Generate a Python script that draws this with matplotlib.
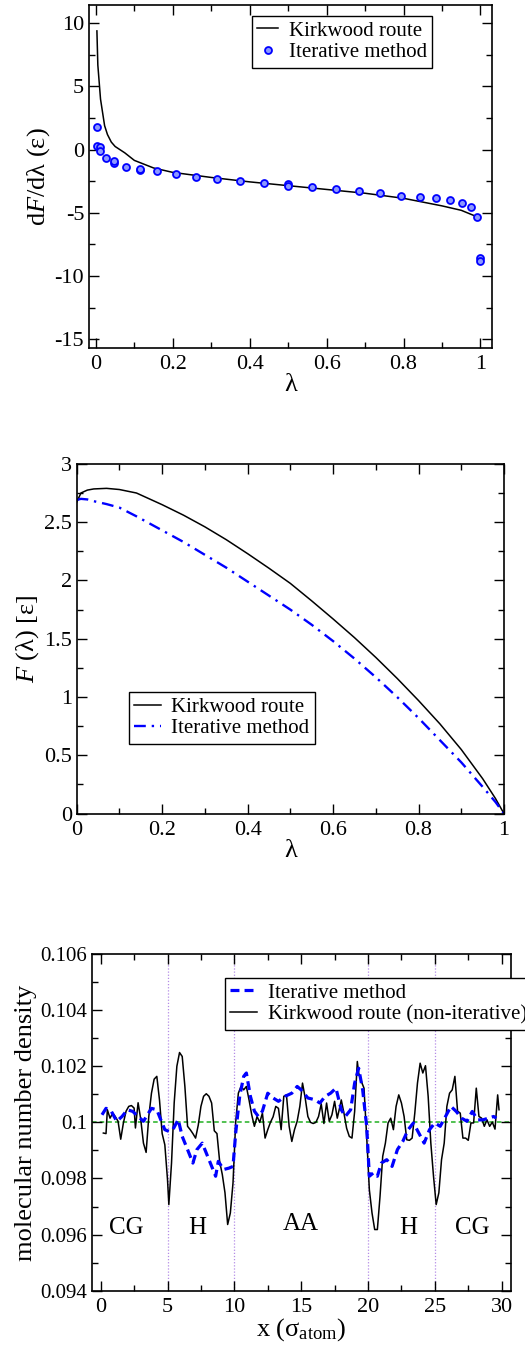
import numpy as np
import matplotlib
matplotlib.use('Agg')
import matplotlib.pyplot as plt

plt.rcParams['font.family'] = ['Liberation Serif', 'DejaVu Serif']
plt.rcParams['mathtext.fontset'] = 'custom'
plt.rcParams['mathtext.rm'] = 'Liberation Serif'
plt.rcParams['mathtext.it'] = 'Liberation Serif:italic'

# panel 1: dF/dlambda
kw_lam = [0.0026, 0.005, 0.012, 0.0226, 0.03, 0.04, 0.05, 0.075, 0.1, 0.15, 0.2, 0.3, 0.4,
          0.5, 0.6, 0.7, 0.8, 0.9, 0.95, 0.99]
kw_dF = [9.4, 6.7, 4.0, 1.9, 1.2, 0.6, 0.25, -0.25, -0.85, -1.45, -1.8, -2.2, -2.55,
         -2.85, -3.15, -3.45, -3.85, -4.45, -4.8, -5.3]
it_lam = [0.002, 0.002, 0.01, 0.01, 0.026, 0.048, 0.048, 0.078, 0.115, 0.115, 0.158, 0.207,
          0.26, 0.316, 0.375, 0.437, 0.5, 0.5, 0.563, 0.624, 0.683, 0.74, 0.794, 0.842,
          0.885, 0.922, 0.952, 0.976, 0.991, 1.0, 1.0]
it_dF = [1.83, 0.29, 0.19, -0.13, -0.66, -1.03, -0.9, -1.35, -1.62, -1.5, -1.72, -1.96,
         -2.2, -2.33, -2.52, -2.63, -2.72, -2.86, -2.94, -3.08, -3.29, -3.42, -3.63, -3.71,
         -3.85, -4.0, -4.24, -4.5, -5.33, -8.6, -8.8]

# panel 2: F(lambda)
F_lam = [0.0, 0.01, 0.025, 0.04, 0.07, 0.1, 0.14, 0.2, 0.25, 0.3, 0.35, 0.4, 0.45, 0.5,
         0.55, 0.6, 0.65, 0.7, 0.75, 0.8, 0.85, 0.9, 0.95, 0.98, 1.0]
F_kw = [2.67, 2.75, 2.775, 2.785, 2.79, 2.78, 2.75, 2.65, 2.56, 2.46, 2.35, 2.23, 2.105,
        1.975, 1.825, 1.67, 1.51, 1.34, 1.16, 0.97, 0.77, 0.55, 0.30, 0.13, 0.0]
F_it = [2.69, 2.70, 2.695, 2.68, 2.655, 2.625, 2.55, 2.43, 2.33, 2.22, 2.11, 1.99, 1.87,
        1.75, 1.62, 1.48, 1.33, 1.17, 1.0, 0.82, 0.63, 0.44, 0.23, 0.10, 0.0]

# panel 3: density profiles
x_kw = [0.2, 0.4, 0.5, 0.7, 0.9, 1.1, 1.3, 1.5, 1.7, 1.9, 2.1, 2.3, 2.5, 2.6, 2.8, 3.0, 3.2,
        3.4, 3.6, 3.8, 4.0, 4.2, 4.4, 4.6, 4.8, 5.0, 5.1, 5.3, 5.5, 5.7, 5.9, 6.1, 6.3, 6.5,
        6.7, 6.9, 7.1, 7.3, 7.5, 7.7, 7.9, 8.1, 8.3, 8.5, 8.7, 8.9, 9.1, 9.3, 9.5, 9.7, 9.9,
        10.1, 10.3, 10.5, 10.7, 10.9, 11.1, 11.3, 11.5, 11.7, 11.9, 12.1, 12.3, 12.5, 12.7,
        12.9, 13.1, 13.3, 13.5, 13.7, 13.9, 14.1, 14.3, 14.5, 14.7, 14.9, 15.1, 15.3, 15.5,
        15.7, 15.9, 16.1, 16.3, 16.5, 16.7, 16.9, 17.1, 17.3, 17.5, 17.7, 17.9, 18.0, 18.2,
        18.4, 18.6, 18.8, 19.0, 19.2, 19.3, 19.5, 19.7, 19.9, 20.1, 20.3, 20.5, 20.7, 20.9,
        21.1, 21.3, 21.5, 21.7, 21.9, 22.1, 22.3, 22.5, 22.7, 22.9, 23.1, 23.3, 23.5, 23.7,
        23.9, 24.1, 24.3, 24.5, 24.7, 24.9, 25.1, 25.3, 25.5, 25.7, 25.9, 26.1, 26.3, 26.5,
        26.7, 26.9, 27.1, 27.3, 27.5, 27.7, 27.9, 28.1, 28.3, 28.5, 28.7, 28.9, 29.1, 29.3,
        29.5, 29.7, 29.8]
rho_kw = [0.09962, 0.0996, 0.10045, 0.10015, 0.10033, 0.1002, 0.10004, 0.0994, 0.09998,
          0.1004, 0.10057, 0.1006, 0.10051, 0.0998, 0.1007, 0.1001, 0.09926, 0.09893,
          0.10021, 0.10104, 0.10154, 0.10164, 0.1008, 0.0996, 0.0992, 0.09796, 0.09707,
          0.09855, 0.1007, 0.1020, 0.10249, 0.10235, 0.10128, 0.09986, 0.09974, 0.0996,
          0.09944, 0.0999, 0.10057, 0.10093, 0.10102, 0.10093, 0.10069, 0.0997, 0.0996,
          0.09861, 0.09814, 0.09749, 0.09636, 0.09677, 0.09784, 0.1000, 0.10104, 0.10128,
          0.10116, 0.10128, 0.1008, 0.10027, 0.09986, 0.10021, 0.1, 0.10033, 0.09944,
          0.09974, 0.1, 0.1002, 0.10057, 0.1005, 0.09974, 0.10093, 0.10098, 0.09986,
          0.09932, 0.09974, 0.10004, 0.10057, 0.1014, 0.10087, 0.10021, 0.1, 0.09996,
          0.1, 0.10021, 0.10066, 0.09996, 0.10069, 0.10004, 0.10027, 0.10075, 0.10015,
          0.10057, 0.1008, 0.10033, 0.09979, 0.0995, 0.09944, 0.10039, 0.10217, 0.10176,
          0.10146, 0.10122, 0.0995, 0.0976, 0.09677, 0.09618, 0.09618, 0.09737, 0.09879,
          0.09926, 0.09998, 0.10015, 0.09974, 0.10057, 0.10098, 0.10069, 0.10021, 0.09938,
          0.09936, 0.09944, 0.10033, 0.1014, 0.10211, 0.10176, 0.10202, 0.10093, 0.09926,
          0.09808, 0.09707, 0.09749, 0.09867, 0.09926, 0.10057, 0.10104, 0.10116, 0.10164,
          0.1004, 0.10033, 0.09944, 0.09944, 0.09936, 0.09998, 0.09998, 0.10122, 0.10021,
          0.10015, 0.09986, 0.10009, 0.09986, 0.10001, 0.09976, 0.10098, 0.10045]

x_it = [0.1, 0.4, 0.8, 1.2, 1.6, 2.0, 2.4, 2.8, 3.2, 3.5, 3.8, 4.2, 4.5, 4.8, 5.1, 5.4, 5.8,
        6.1, 6.5, 6.9, 7.2, 7.6, 8.0, 8.4, 8.6, 8.8, 9.2, 9.6, 9.9, 10.1, 10.4, 10.7, 10.9,
        11.2, 11.5, 11.8, 12.1, 12.5, 12.9, 13.3, 13.8, 14.3, 14.7, 15.0, 15.5, 16.0, 16.4,
        16.8, 17.2, 17.6, 18.0, 18.3, 18.7, 19.0, 19.3, 19.6, 19.9, 20.1, 20.4, 20.7, 21.0,
        21.4, 21.8, 22.2, 22.6, 23.0, 23.4, 23.8, 24.2, 24.6, 25.0, 25.4, 25.8, 26.2, 26.6,
        27.0, 27.4, 27.8, 28.2, 28.6, 29.0, 29.4, 29.6]
rho_it = [0.10027, 0.1005, 0.10039, 0.10004, 0.10021, 0.10045, 0.10039, 0.10021, 0.10004,
          0.10027, 0.1005, 0.10045, 0.10009, 0.09974, 0.09968, 0.09974, 0.1001, 0.0995,
          0.09903, 0.09855, 0.09903, 0.09926, 0.09879, 0.09832, 0.09808, 0.09861, 0.09832,
          0.09837, 0.09843, 0.09962, 0.10093, 0.10164, 0.10176, 0.10093, 0.1004, 0.10021,
          0.1004, 0.10104, 0.10087, 0.10075, 0.10093, 0.10104, 0.10128, 0.10116, 0.10087,
          0.10081, 0.10069, 0.10093, 0.10104, 0.10122, 0.10045, 0.10021, 0.10045, 0.1014,
          0.10193, 0.10116, 0.09986, 0.09808, 0.0982, 0.09808, 0.09855, 0.09867, 0.09843,
          0.09903, 0.09932, 0.09974, 0.09998, 0.09962, 0.09926, 0.09974, 0.09998, 0.09986,
          0.10021, 0.10057, 0.10039, 0.10015, 0.10004, 0.10039, 0.10009, 0.10009, 0.10015,
          0.10021, 0.10015]

regions = ['CG', 'H', 'AA', 'H', 'CG']
region_x = [1.9, 7.26, 15.0, 23.0, 27.8]
region_y = [0.09624, 0.09624, 0.09636, 0.09624, 0.09624]
boundaries = [5, 10, 20, 25]


def style_axes(ax, xmaj, xmin, ymaj, ymin, xsize=16, ysize=16):
    ax.xaxis.set_major_locator(plt.MultipleLocator(xmaj))
    ax.xaxis.set_minor_locator(plt.MultipleLocator(xmin))
    ax.yaxis.set_major_locator(plt.MultipleLocator(ymaj))
    ax.yaxis.set_minor_locator(plt.MultipleLocator(ymin))
    ax.tick_params(which='both', direction='in', top=True, right=True, width=1)
    ax.tick_params(which='major', length=7)
    ax.tick_params(which='minor', length=4)
    ax.tick_params(axis='x', labelsize=xsize, pad=5)
    ax.tick_params(axis='y', labelsize=ysize)
    ax.xaxis.set_major_formatter(plt.FuncFormatter(lambda v, p: '%g' % v))
    ax.yaxis.set_major_formatter(plt.FuncFormatter(lambda v, p: '%g' % v))
    for s in ax.spines.values():
        s.set_linewidth(1.2)


leg_kw = dict(fontsize=15, frameon=True, fancybox=False, framealpha=1, edgecolor='black',
              borderpad=0.25, labelspacing=0.1, handletextpad=0.5, borderaxespad=0)

fig = plt.figure(figsize=(5.25, 13.52), dpi=100)

# ---- panel 1
ax1 = fig.add_axes([0.1695, 0.7426, 0.7676, 0.2537])
ax1.plot(kw_lam, kw_dF, color='black', lw=1.1, label='Kirkwood route')
ax1.plot(it_lam, it_dF, 'o', ms=5, mfc='#8c98ff', mec='blue', mew=1.3, label='Iterative method')
ax1.set_xlim(-0.018, 1.03)
ax1.set_ylim(-15.7, 11.45)
style_axes(ax1, 0.2, 0.1, 5, 2.5)
ax1.set_xlabel('λ', fontsize=19, labelpad=0)
ax1.set_ylabel('d$\\it{F}$/dλ (ε)', fontsize=19, labelpad=2)
l1 = ax1.legend(loc='upper right', bbox_to_anchor=(0.851, 0.968), handlelength=1.0, **leg_kw)
l1.get_frame().set_linewidth(1)

# ---- panel 2
ax2 = fig.add_axes([0.146, 0.3982, 0.814, 0.2587])
ax2.plot(F_lam, F_kw, color='black', lw=1.1, label='Kirkwood route')
ax2.plot(F_lam, F_it, color='blue', lw=1.7, linestyle=(0, (5, 2.5, 1, 2.5)), label='Iterative method')
ax2.set_xlim(0, 1)
ax2.set_ylim(0, 3)
style_axes(ax2, 0.2, 0.1, 0.5, 0.25)
ax2.set_xlabel('λ', fontsize=19, labelpad=0)
ax2.set_ylabel('$\\it{F}$ (λ) [ε]', fontsize=19, labelpad=2)
l2 = ax2.legend(loc='lower left', bbox_to_anchor=(0.122, 0.2), handlelength=1.3, **leg_kw)
l2.get_frame().set_linewidth(1)

# ---- panel 3
ax3 = fig.add_axes([0.1747, 0.04534, 0.7987, 0.249])
for b in boundaries:
    ax3.axvline(b, color='#b48ce6', lw=0.9, linestyle=(0, (1, 1.5)), zorder=1)
ax3.axhline(0.1, color='#22b022', lw=1.1, linestyle=(0, (3, 2)), zorder=1)
ax3.plot(x_it, rho_it, color='blue', lw=2.3, linestyle=(0, (2.8, 1.6)), label='Iterative method', zorder=3)
ax3.plot(x_kw, rho_kw, color='black', lw=1.1, label='Kirkwood route (non-iterative)', zorder=2)
for t, xx, yy in zip(regions, region_x, region_y):
    ax3.text(xx, yy, t, fontsize=18, ha='center', va='center')
ax3.set_xlim(-0.67, 30.7)
ax3.set_ylim(0.094, 0.106)
style_axes(ax3, 5, 2.5, 0.002, 0.001, xsize=16, ysize=15)
ax3.set_xlabel('x (σ$_{\\rm atom}$)', fontsize=19, labelpad=0)
ax3.set_ylabel('molecular number density', fontsize=19, labelpad=2)
l3 = ax3.legend(loc='upper left', bbox_to_anchor=(0.318, 0.929), handlelength=1.3, **leg_kw)
l3.get_frame().set_linewidth(1)
l3.set_zorder(5)

fig.savefig('out.png', dpi=100)
